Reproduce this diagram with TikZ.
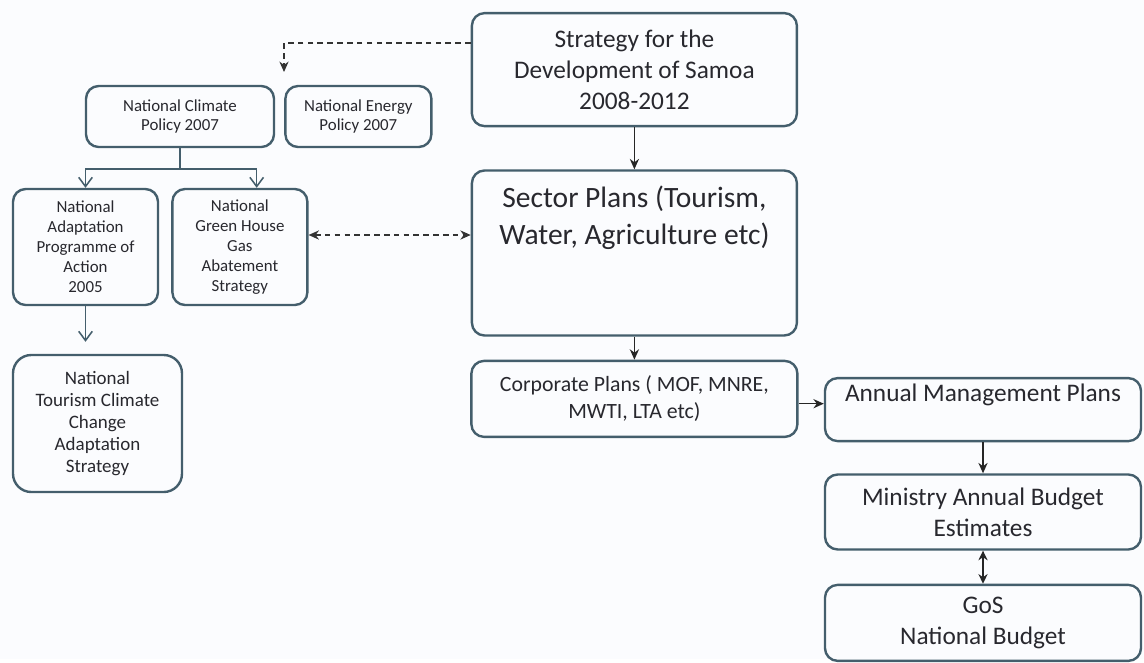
\documentclass[tikz,border=0pt]{standalone}
\usepackage{fontspec}
\setmainfont{Carlito}
\usetikzlibrary{arrows.meta, positioning, calc}
\definecolor{boxedge}{RGB}{68,94,108}
\definecolor{boxtext}{RGB}{40,40,46}
\definecolor{paper}{RGB}{251,252,254}
\newcommand{\fs}[2]{\fontsize{#1}{#2}\selectfont}

\begin{document}
\begin{tikzpicture}[
  box/.style={rectangle, rounded corners=9pt, draw=boxedge, line width=1.7pt, fill=paper,
              text=boxtext, align=center, inner sep=2pt},
  big/.style={box, font=\fs{18}{22}, minimum width=8.125cm},
  small/.style={box, font=\fs{12}{13}},
  arr/.style={-{Stealth[length=2.6mm, width=2.3mm]}, line width=1.1pt, black!85},
  tree/.style={-{Straight Barb[length=2.3mm, width=3.4mm]}, line width=1.1pt, boxedge},
  dashlink/.style={-{Stealth[length=2.6mm, width=2.3mm]}, line width=1.1pt, black!80,
                   dash pattern=on 4pt off 3pt},
  dashpair/.style={{Stealth[length=2.6mm, width=2.3mm]}-{Stealth[length=2.6mm, width=2.3mm]},
                   line width=1.1pt, black!80, dash pattern=on 4pt off 3pt},
  pair/.style={{Stealth[length=2.4mm, width=2.3mm]}-{Stealth[length=2.4mm, width=2.3mm]},
               line width=1.1pt, black!85},
  node distance=0.55cm
]
\fill[paper] (0,0) rectangle (28.6,-16.475);

%% Main column
\node[big, minimum height=2.825cm] (sds) at (15.86,-1.74)
  {Strategy for the\\Development of Samoa\\2008-2012};
\node[box, minimum width=8.125cm, minimum height=4.125cm, below=1.05cm of sds,
      label={[font=\fs{21}{26}, text=boxtext, align=center, anchor=north, yshift=-0.3cm]north:Sector Plans (Tourism,\\Water, Agriculture etc)}] (sector) {};
\node[box, font=\fs{15.5}{19}, minimum width=8.15cm, minimum height=1.9cm, below=0.575cm of sector] (corp)
  {Corporate Plans ( MOF, MNRE,\\MWTI, LTA etc)};
\draw[arr] (sds) -- (sector);
\draw[arr] (sector) -- (corp);

%% Budget chain
\node[box, minimum width=7.9cm, minimum height=1.575cm,
      label={[font=\fs{18}{22}, text=boxtext, anchor=north, yshift=-0.05cm]north:Annual Management Plans}] (annual) at (24.575,-10.24) {};
\node[big, minimum width=7.9cm, minimum height=1.875cm, below=0.775cm of annual] (ministry)
  {Ministry Annual Budget\\Estimates};
\node[big, minimum width=7.9cm, minimum height=1.9cm, below=0.825cm of ministry] (gos)
  {GoS\\National Budget};
\draw[arr] ([yshift=-0.12cm]corp.east) -- ([yshift=-0.12cm]corp.east -| annual.west);
\draw[arr] (annual) -- (ministry);
\draw[pair] (ministry) -- (gos);

%% Climate policies
\node[small, minimum width=4.7cm, minimum height=1.525cm] (ncp) at (4.5,-2.9125)
  {National Climate\\Policy 2007};
\node[small, minimum width=3.65cm, minimum height=1.525cm, right=0.225cm of ncp] (nep)
  {National Energy\\Policy 2007};
\node[small, font=\fs{12}{14.2}, minimum width=3.625cm, minimum height=2.9cm] (napa) at (2.1375,-6.175)
  {National\\Adaptation\\Programme of\\Action\\2005};
\node[small, font=\fs{12}{14.2}, minimum width=3.375cm, minimum height=2.9cm, right=0.3cm of napa] (nghg)
  {National\\Green House\\Gas\\Abatement\\Strategy};
\node[small, font=\fs{13.5}{15.6}, rounded corners=13pt, minimum width=4.225cm, minimum height=3.425cm] (ntcc) at (2.4375,-10.5875)
  {National\\Tourism Climate\\Change\\Adaptation\\Strategy};

\coordinate (cliptip) at (7.1,-1.8);
\draw[dashlink] ([yshift=0.66cm]sds.west) -| (cliptip);
\draw[tree] (ncp.south) -- ++(0,-0.525) -| (napa.north);
\draw[tree] (ncp.south) -- ++(0,-0.525) -| ([xshift=0.42cm]nghg.north);
\coordinate (napatip) at ([yshift=0.3cm]napa.south |- ntcc.north);
\draw[tree] (napa.south) -- (napatip);
\coordinate (ghlink) at ([yshift=0.3cm]nghg.east);
\draw[dashpair] (ghlink) -- (ghlink -| sector.west);
\end{tikzpicture}
\end{document}
